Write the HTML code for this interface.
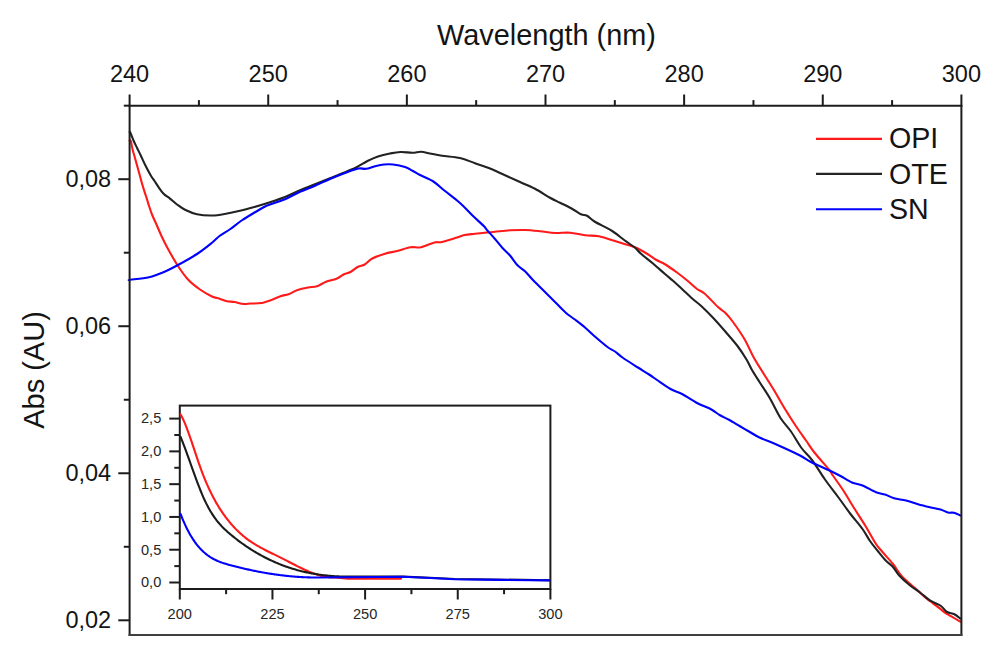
<!DOCTYPE html>
<html><head><meta charset="utf-8"><title>Absorbance spectra</title>
<style>html,body{margin:0;padding:0;background:#fff;width:1004px;height:667px;overflow:hidden}svg{display:block}</style>
</head><body>
<svg width="1004" height="667" viewBox="0 0 1004 667">
<rect width="1004" height="667" fill="#fff"/>
<g style='font-family:"Liberation Sans",sans-serif' fill="#141414">
<text x="546.5" y="45" text-anchor="middle" font-size="28.9">Wavelength (nm)</text>
<text transform="translate(43.6,370) rotate(-90)" text-anchor="middle" font-size="29">Abs (AU)</text>
<text x="129.60" y="82.2" text-anchor="middle" font-size="23.5">240</text><text x="268.23" y="82.2" text-anchor="middle" font-size="23.5">250</text><text x="406.87" y="82.2" text-anchor="middle" font-size="23.5">260</text><text x="545.50" y="82.2" text-anchor="middle" font-size="23.5">270</text><text x="684.13" y="82.2" text-anchor="middle" font-size="23.5">280</text><text x="822.77" y="82.2" text-anchor="middle" font-size="23.5">290</text><text x="961.40" y="82.2" text-anchor="middle" font-size="23.5">300</text><text x="111.2" y="627.90" text-anchor="end" font-size="23.5">0,02</text><text x="111.2" y="480.87" text-anchor="end" font-size="23.5">0,04</text><text x="111.2" y="333.83" text-anchor="end" font-size="23.5">0,06</text><text x="111.2" y="186.80" text-anchor="end" font-size="23.5">0,08</text><text x="179.80" y="618.5" text-anchor="middle" font-size="14.6" fill="#262626">200</text><text x="272.45" y="618.5" text-anchor="middle" font-size="14.6" fill="#262626">225</text><text x="365.10" y="618.5" text-anchor="middle" font-size="14.6" fill="#262626">250</text><text x="457.75" y="618.5" text-anchor="middle" font-size="14.6" fill="#262626">275</text><text x="550.40" y="618.5" text-anchor="middle" font-size="14.6" fill="#262626">300</text><text x="161.3" y="587.30" text-anchor="end" font-size="14.6" fill="#262626">0,0</text><text x="161.3" y="554.52" text-anchor="end" font-size="14.6" fill="#262626">0,5</text><text x="161.3" y="521.74" text-anchor="end" font-size="14.6" fill="#262626">1,0</text><text x="161.3" y="488.96" text-anchor="end" font-size="14.6" fill="#262626">1,5</text><text x="161.3" y="456.18" text-anchor="end" font-size="14.6" fill="#262626">2,0</text><text x="161.3" y="423.40" text-anchor="end" font-size="14.6" fill="#262626">2,5</text>
<text x="889" y="148.3" font-size="28.6">OPI</text>
<text x="889" y="183.5" font-size="28.6">OTE</text>
<text x="889" y="218.8" font-size="28.6">SN</text>
</g>
<g fill="none" stroke-width="2.1" stroke-linejoin="round" stroke-linecap="round">
<path d="M129.60,140.50 C129.82,140.63 130.38,139.72 130.90,141.30 C131.42,142.88 132.02,147.22 132.70,150.00 C133.38,152.78 134.25,155.33 135.00,158.00 C135.75,160.67 136.42,163.17 137.20,166.00 C137.98,168.83 138.90,172.08 139.70,175.00 C140.50,177.92 141.22,180.77 142.00,183.50 C142.78,186.23 143.60,188.88 144.40,191.40 C145.20,193.92 146.10,196.40 146.80,198.60 C147.50,200.80 147.73,201.95 148.60,204.60 C149.47,207.25 150.65,211.10 152.00,214.50 C153.35,217.90 155.12,221.42 156.70,225.00 C158.28,228.58 159.70,232.17 161.50,236.00 C163.30,239.83 164.83,243.12 167.50,248.00 C170.17,252.88 174.08,260.00 177.50,265.25 C180.92,270.50 184.25,275.46 188.00,279.50 C191.75,283.54 196.00,286.67 200.00,289.50 C204.00,292.33 208.75,294.97 212.00,296.50 C215.25,298.03 217.00,297.91 219.50,298.70 C222.00,299.49 224.50,300.70 227.00,301.25 C229.50,301.80 231.75,301.54 234.50,302.00 C237.25,302.46 240.75,303.75 243.50,304.00 C246.25,304.25 248.00,303.67 251.00,303.50 C254.00,303.33 258.00,303.62 261.50,303.00 C265.00,302.38 268.75,300.92 272.00,299.75 C275.25,298.58 278.25,296.93 281.00,296.00 C283.75,295.07 285.75,295.20 288.50,294.20 C291.25,293.20 294.25,291.12 297.50,290.00 C300.75,288.88 304.75,288.12 308.00,287.50 C311.25,286.88 314.00,287.21 317.00,286.25 C320.00,285.29 322.75,283.00 326.00,281.75 C329.25,280.50 333.50,280.00 336.50,278.75 C339.50,277.50 341.67,275.38 344.00,274.25 C346.33,273.12 348.17,273.25 350.50,272.00 C352.83,270.75 355.62,268.00 358.00,266.75 C360.38,265.50 362.38,265.88 364.75,264.50 C367.12,263.12 368.88,260.30 372.25,258.50 C375.62,256.70 380.88,254.95 385.00,253.70 C389.12,252.45 392.75,252.07 397.00,251.00 C401.25,249.93 406.50,247.88 410.50,247.25 C414.50,246.62 417.00,248.05 421.00,247.25 C425.00,246.45 431.00,243.32 434.50,242.45 C438.00,241.57 438.25,242.82 442.00,242.00 C445.75,241.18 453.25,238.67 457.00,237.50 C460.75,236.33 461.50,235.62 464.50,235.00 C467.50,234.38 471.25,234.17 475.00,233.75 C478.75,233.33 483.67,232.82 487.00,232.50 C490.33,232.18 491.17,232.17 495.00,231.80 C498.83,231.43 505.00,230.60 510.00,230.30 C515.00,230.00 520.00,229.85 525.00,230.00 C530.00,230.15 535.00,230.70 540.00,231.20 C545.00,231.70 550.00,232.75 555.00,233.00 C560.00,233.25 565.00,232.32 570.00,232.70 C575.00,233.07 580.17,234.67 585.00,235.25 C589.83,235.83 594.42,235.37 599.00,236.20 C603.58,237.03 608.25,238.95 612.50,240.25 C616.75,241.55 620.75,242.82 624.50,244.00 C628.25,245.18 631.25,245.68 635.00,247.30 C638.75,248.93 643.50,251.68 647.00,253.75 C650.50,255.82 653.00,258.00 656.00,259.75 C659.00,261.50 661.50,262.12 665.00,264.25 C668.50,266.38 673.25,269.75 677.00,272.50 C680.75,275.25 684.17,278.00 687.50,280.75 C690.83,283.50 694.17,286.88 697.00,289.00 C699.83,291.12 701.00,290.50 704.50,293.50 C708.00,296.50 714.50,303.75 718.00,307.00 C721.50,310.25 723.00,310.50 725.50,313.00 C728.00,315.50 729.75,317.50 733.00,322.00 C736.25,326.50 741.50,334.00 745.00,340.00 C748.50,346.00 750.25,351.38 754.00,358.00 C757.75,364.62 764.08,374.25 767.50,379.75 C770.92,385.25 771.58,386.12 774.50,391.00 C777.42,395.88 781.50,403.25 785.00,409.00 C788.50,414.75 792.00,420.25 795.50,425.50 C799.00,430.75 802.75,435.88 806.00,440.50 C809.25,445.12 811.12,448.38 815.00,453.25 C818.88,458.12 826.33,466.12 829.25,469.75 C832.17,473.38 830.21,471.62 832.50,475.00 C834.79,478.38 839.25,484.25 843.00,490.00 C846.75,495.75 851.25,503.50 855.00,509.50 C858.75,515.50 862.00,520.25 865.50,526.00 C869.00,531.75 873.17,539.67 876.00,544.00 C878.83,548.33 879.67,548.67 882.50,552.00 C885.33,555.33 889.75,559.92 893.00,564.00 C896.25,568.08 898.50,572.62 902.00,576.50 C905.50,580.38 911.00,584.62 914.00,587.30 C917.00,589.98 917.77,590.62 920.00,592.60 C922.23,594.58 925.23,597.42 927.40,599.20 C929.57,600.98 931.00,601.80 933.00,603.30 C935.00,604.80 937.23,606.52 939.40,608.20 C941.57,609.88 943.73,611.88 946.00,613.40 C948.27,614.92 950.60,615.92 953.00,617.30 C955.40,618.68 959.17,620.97 960.40,621.70" stroke="#ff1a1a"/>
<path d="M129.60,132.00 C129.72,132.08 129.65,131.08 130.30,132.50 C130.95,133.92 132.35,137.88 133.50,140.50 C134.65,143.12 135.95,145.62 137.20,148.20 C138.45,150.78 139.67,153.20 141.00,156.00 C142.33,158.80 143.62,161.83 145.20,165.00 C146.78,168.17 148.95,172.33 150.50,175.00 C152.05,177.67 153.22,179.07 154.50,181.00 C155.78,182.93 156.68,184.47 158.20,186.60 C159.72,188.73 161.63,191.80 163.60,193.80 C165.57,195.80 167.77,196.82 170.00,198.60 C172.23,200.38 174.50,202.64 177.00,204.50 C179.50,206.36 181.67,208.12 185.00,209.75 C188.33,211.38 192.50,213.29 197.00,214.25 C201.50,215.21 207.00,215.62 212.00,215.50 C217.00,215.38 222.75,214.21 227.00,213.50 C231.25,212.79 233.25,212.25 237.50,211.25 C241.75,210.25 247.08,209.00 252.50,207.50 C257.92,206.00 264.58,204.00 270.00,202.25 C275.42,200.50 280.00,199.00 285.00,197.00 C290.00,195.00 295.00,192.38 300.00,190.25 C305.00,188.12 310.00,186.25 315.00,184.25 C320.00,182.25 325.00,180.25 330.00,178.25 C335.00,176.25 340.50,174.12 345.00,172.25 C349.50,170.38 353.25,168.88 357.00,167.00 C360.75,165.12 364.00,162.75 367.50,161.00 C371.00,159.25 374.25,157.75 378.00,156.50 C381.75,155.25 386.25,154.25 390.00,153.50 C393.75,152.75 396.75,152.12 400.50,152.00 C404.25,151.88 409.08,152.80 412.50,152.75 C415.92,152.70 418.08,151.57 421.00,151.70 C423.92,151.82 426.50,152.82 430.00,153.50 C433.50,154.18 437.00,155.00 442.00,155.75 C447.00,156.50 454.50,156.75 460.00,158.00 C465.50,159.25 470.00,161.50 475.00,163.25 C480.00,165.00 485.00,166.50 490.00,168.50 C495.00,170.50 500.00,173.00 505.00,175.25 C510.00,177.50 515.00,179.75 520.00,182.00 C525.00,184.25 530.00,186.12 535.00,188.75 C540.00,191.38 545.83,195.42 550.00,197.75 C554.17,200.08 556.33,200.92 560.00,202.75 C563.67,204.58 568.50,206.82 572.00,208.75 C575.50,210.68 578.50,213.12 581.00,214.30 C583.50,215.48 584.75,214.60 587.00,215.80 C589.25,217.00 590.25,218.93 594.50,221.50 C598.75,224.07 607.50,228.12 612.50,231.25 C617.50,234.38 620.75,237.50 624.50,240.25 C628.25,243.00 632.25,245.50 635.00,247.75 C637.75,250.00 638.00,251.12 641.00,253.75 C644.00,256.38 649.00,260.12 653.00,263.50 C657.00,266.88 661.67,271.12 665.00,274.00 C668.33,276.88 670.17,278.25 673.00,280.75 C675.83,283.25 678.75,286.00 682.00,289.00 C685.25,292.00 689.25,295.88 692.50,298.75 C695.75,301.62 698.00,303.00 701.50,306.25 C705.00,309.50 709.50,314.00 713.50,318.25 C717.50,322.50 721.50,327.12 725.50,331.75 C729.50,336.38 734.00,341.38 737.50,346.00 C741.00,350.62 744.08,355.50 746.50,359.50 C748.92,363.50 749.83,366.25 752.00,370.00 C754.17,373.75 756.50,377.25 759.50,382.00 C762.50,386.75 766.50,392.50 770.00,398.50 C773.50,404.50 777.00,412.50 780.50,418.00 C784.00,423.50 787.50,426.50 791.00,431.50 C794.50,436.50 798.00,443.25 801.50,448.00 C805.00,452.75 808.08,454.75 812.00,460.00 C815.92,465.25 820.58,473.25 825.00,479.50 C829.42,485.75 834.25,491.75 838.50,497.50 C842.75,503.25 846.50,508.75 850.50,514.00 C854.50,519.25 859.25,524.50 862.50,529.00 C865.75,533.50 867.42,537.29 870.00,541.00 C872.58,544.71 875.42,548.04 878.00,551.25 C880.58,554.46 883.00,557.62 885.50,560.25 C888.00,562.88 890.75,564.51 893.00,567.00 C895.25,569.49 896.25,572.20 899.00,575.20 C901.75,578.20 906.00,582.12 909.50,585.00 C913.00,587.88 916.52,589.88 920.00,592.50 C923.48,595.12 926.90,598.45 930.40,600.70 C933.90,602.95 938.23,604.12 941.00,606.00 C943.77,607.88 944.77,610.63 947.00,612.00 C949.23,613.37 952.17,613.08 954.40,614.20 C956.63,615.32 959.40,617.95 960.40,618.70" stroke="#222"/>
<path d="M129.60,280.00 C129.71,279.97 127.02,280.26 130.25,279.80 C133.48,279.34 143.38,278.55 149.00,277.25 C154.62,275.95 159.25,274.00 164.00,272.00 C168.75,270.00 172.00,268.25 177.50,265.25 C183.00,262.25 191.25,257.75 197.00,254.00 C202.75,250.25 208.25,245.75 212.00,242.75 C215.75,239.75 216.50,238.25 219.50,236.00 C222.50,233.75 226.25,231.88 230.00,229.25 C233.75,226.62 237.75,223.12 242.00,220.25 C246.25,217.38 251.50,214.38 255.50,212.00 C259.50,209.62 263.58,207.25 266.00,206.00 C268.42,204.75 266.83,205.62 270.00,204.50 C273.17,203.38 280.00,201.38 285.00,199.25 C290.00,197.12 295.00,194.00 300.00,191.75 C305.00,189.50 310.00,187.88 315.00,185.75 C320.00,183.62 325.00,181.12 330.00,179.00 C335.00,176.88 340.25,174.75 345.00,173.00 C349.75,171.25 355.00,169.20 358.50,168.50 C362.00,167.80 363.25,169.18 366.00,168.80 C368.75,168.43 372.00,166.97 375.00,166.25 C378.00,165.53 381.00,164.75 384.00,164.45 C387.00,164.15 389.50,164.02 393.00,164.45 C396.50,164.88 401.75,165.95 405.00,167.00 C408.25,168.05 410.00,169.42 412.50,170.75 C415.00,172.08 416.58,173.25 420.00,175.00 C423.42,176.75 428.83,178.58 433.00,181.25 C437.17,183.92 440.50,187.38 445.00,191.00 C449.50,194.62 455.50,199.00 460.00,203.00 C464.50,207.00 468.00,211.12 472.00,215.00 C476.00,218.88 481.50,223.75 484.00,226.25 C486.50,228.75 485.17,227.88 487.00,230.00 C488.83,232.12 492.42,236.00 495.00,239.00 C497.58,242.00 500.00,245.25 502.50,248.00 C505.00,250.75 507.50,252.62 510.00,255.50 C512.50,258.38 515.00,262.62 517.50,265.25 C520.00,267.88 522.50,268.88 525.00,271.25 C527.50,273.62 529.50,276.38 532.50,279.50 C535.50,282.62 539.25,286.25 543.00,290.00 C546.75,293.75 551.25,298.25 555.00,302.00 C558.75,305.75 562.25,309.62 565.50,312.50 C568.75,315.38 571.25,316.75 574.50,319.25 C577.75,321.75 581.75,324.75 585.00,327.50 C588.25,330.25 590.25,332.50 594.00,335.75 C597.75,339.00 604.00,344.38 607.50,347.00 C611.00,349.62 612.50,349.75 615.00,351.50 C617.50,353.25 618.75,354.88 622.50,357.50 C626.25,360.12 633.00,364.38 637.50,367.25 C642.00,370.12 646.25,372.62 649.50,374.75 C652.75,376.88 653.50,377.62 657.00,380.00 C660.50,382.38 666.25,386.62 670.50,389.00 C674.75,391.38 678.00,391.88 682.50,394.25 C687.00,396.62 692.75,400.75 697.50,403.25 C702.25,405.75 707.25,407.25 711.00,409.25 C714.75,411.25 717.00,413.50 720.00,415.25 C723.00,417.00 725.67,417.92 729.00,419.75 C732.33,421.58 736.67,424.29 740.00,426.25 C743.33,428.21 745.75,429.62 749.00,431.50 C752.25,433.38 754.75,435.25 759.50,437.50 C764.25,439.75 770.75,442.00 777.50,445.00 C784.25,448.00 794.58,452.75 800.00,455.50 C805.42,458.25 805.08,459.00 810.00,461.50 C814.92,464.00 824.50,468.12 829.50,470.50 C834.50,472.88 836.25,473.75 840.00,475.75 C843.75,477.75 848.25,480.88 852.00,482.50 C855.75,484.12 858.50,483.88 862.50,485.50 C866.50,487.12 872.25,490.75 876.00,492.25 C879.75,493.75 882.00,493.50 885.00,494.50 C888.00,495.50 890.50,497.25 894.00,498.25 C897.50,499.25 902.00,499.50 906.00,500.50 C910.00,501.50 914.00,503.12 918.00,504.25 C922.00,505.38 926.25,506.38 930.00,507.25 C933.75,508.12 937.50,508.62 940.50,509.50 C943.50,510.38 945.75,511.95 948.00,512.50 C950.25,513.05 951.93,512.30 954.00,512.80 C956.07,513.30 959.33,515.05 960.40,515.50" stroke="#0000ff"/>
</g>
<g stroke-width="2.1">
<line x1="816" y1="138.9" x2="882" y2="138.9" stroke="#ff1a1a"/>
<line x1="816" y1="173.9" x2="882" y2="173.9" stroke="#252525"/>
<line x1="816" y1="209.3" x2="882" y2="209.3" stroke="#0000ff"/>
</g>
<rect x="179.80" y="405.60" width="370.60" height="183.40" fill="#fff" stroke="#1c1c1c" stroke-width="2"/>
<g fill="none" stroke-width="2.1" stroke-linejoin="round" stroke-linecap="round">
<path d="M180.60,414.41 L181.60,416.24 L182.60,418.23 L183.60,420.38 L184.60,422.68 L185.60,425.11 L186.60,427.66 L187.60,430.31 L188.60,433.06 L189.60,435.88 L190.60,438.76 L191.60,441.70 L192.60,444.67 L193.60,447.67 L194.60,450.68 L195.60,453.68 L196.60,456.67 L197.60,459.63 L198.60,462.54 L199.60,465.40 L200.60,468.18 L201.60,470.89 L202.60,473.53 L203.60,476.09 L204.60,478.58 L205.60,480.99 L206.60,483.34 L207.60,485.62 L208.60,487.83 L209.60,489.98 L210.60,492.07 L211.60,494.10 L212.60,496.07 L213.60,497.98 L214.60,499.84 L215.60,501.64 L216.60,503.39 L217.60,505.09 L218.60,506.74 L219.60,508.35 L220.60,509.91 L221.60,511.42 L222.60,512.90 L223.60,514.34 L224.60,515.73 L225.60,517.09 L226.60,518.42 L227.60,519.71 L228.60,520.97 L229.60,522.19 L230.60,523.38 L231.60,524.54 L232.60,525.66 L233.60,526.76 L234.60,527.83 L235.60,528.87 L236.60,529.88 L237.60,530.86 L238.60,531.81 L239.60,532.74 L240.60,533.65 L241.60,534.53 L242.60,535.39 L243.60,536.22 L244.60,537.03 L245.60,537.82 L246.60,538.59 L247.60,539.34 L248.60,540.07 L249.60,540.78 L250.60,541.47 L251.60,542.14 L252.60,542.80 L253.60,543.45 L254.60,544.08 L255.60,544.69 L256.60,545.29 L257.60,545.88 L258.60,546.46 L259.60,547.02 L260.60,547.58 L261.60,548.12 L262.60,548.66 L263.60,549.18 L264.60,549.70 L265.60,550.22 L266.60,550.73 L267.60,551.23 L268.60,551.72 L269.60,552.22 L270.60,552.71 L271.60,553.20 L272.60,553.68 L273.60,554.17 L274.60,554.65 L275.60,555.14 L276.60,555.63 L277.60,556.12 L278.60,556.61 L279.60,557.11 L280.60,557.61 L281.60,558.11 L282.60,558.62 L283.60,559.13 L284.60,559.64 L285.60,560.16 L286.60,560.67 L287.60,561.19 L288.60,561.71 L289.60,562.23 L290.60,562.75 L291.60,563.26 L292.60,563.78 L293.60,564.29 L294.60,564.80 L295.60,565.31 L296.60,565.82 L297.60,566.32 L298.60,566.82 L299.60,567.31 L300.60,567.79 L301.60,568.28 L302.60,568.75 L303.60,569.22 L304.60,569.68 L305.60,570.13 L306.60,570.57 L307.60,571.01 L308.60,571.43 L309.60,571.85 L310.60,572.25 L311.60,572.65 L312.60,573.03 L313.60,573.40 L314.60,573.76 L315.60,574.11 L316.60,574.44 L317.60,574.76 L318.60,575.06 L319.60,575.35 L320.60,575.62 L321.60,575.88 L322.60,576.12 L323.60,576.35 L324.60,576.56 L325.60,576.75 L326.60,576.92 L327.60,577.07 L328.60,577.20 L329.60,577.32 L330.60,577.41 L331.60,577.48 L332.60,577.54 L333.60,577.56 L334.60,577.57 L335.00,577.57 L348.00,578.60 L401.00,578.60" stroke="#ff1a1a"/>
<path d="M180.60,436.90 L181.60,439.39 L182.60,441.94 L183.60,444.54 L184.60,447.20 L185.60,449.90 L186.60,452.63 L187.60,455.39 L188.60,458.17 L189.60,460.97 L190.60,463.77 L191.60,466.58 L192.60,469.38 L193.60,472.16 L194.60,474.93 L195.60,477.67 L196.60,480.38 L197.60,483.05 L198.60,485.67 L199.60,488.23 L200.60,490.74 L201.60,493.18 L202.60,495.54 L203.60,497.83 L204.60,500.02 L205.60,502.13 L206.60,504.15 L207.60,506.09 L208.60,507.94 L209.60,509.72 L210.60,511.43 L211.60,513.06 L212.60,514.63 L213.60,516.13 L214.60,517.57 L215.60,518.95 L216.60,520.27 L217.60,521.54 L218.60,522.76 L219.60,523.93 L220.60,525.05 L221.60,526.14 L222.60,527.18 L223.60,528.19 L224.60,529.16 L225.60,530.11 L226.60,531.03 L227.60,531.92 L228.60,532.79 L229.60,533.64 L230.60,534.48 L231.60,535.31 L232.60,536.12 L233.60,536.93 L234.60,537.72 L235.60,538.51 L236.60,539.28 L237.60,540.05 L238.60,540.80 L239.60,541.55 L240.60,542.29 L241.60,543.01 L242.60,543.73 L243.60,544.44 L244.60,545.14 L245.60,545.83 L246.60,546.51 L247.60,547.18 L248.60,547.84 L249.60,548.50 L250.60,549.14 L251.60,549.78 L252.60,550.40 L253.60,551.02 L254.60,551.63 L255.60,552.23 L256.60,552.82 L257.60,553.40 L258.60,553.98 L259.60,554.54 L260.60,555.10 L261.60,555.65 L262.60,556.19 L263.60,556.72 L264.60,557.24 L265.60,557.76 L266.60,558.26 L267.60,558.76 L268.60,559.25 L269.60,559.73 L270.60,560.21 L271.60,560.67 L272.60,561.13 L273.60,561.58 L274.60,562.02 L275.60,562.46 L276.60,562.89 L277.60,563.31 L278.60,563.72 L279.60,564.12 L280.60,564.52 L281.60,564.91 L282.60,565.29 L283.60,565.66 L284.60,566.03 L285.60,566.39 L286.60,566.74 L287.60,567.09 L288.60,567.43 L289.60,567.76 L290.60,568.08 L291.60,568.40 L292.60,568.71 L293.60,569.01 L294.60,569.31 L295.60,569.60 L296.60,569.89 L297.60,570.16 L298.60,570.43 L299.60,570.70 L300.60,570.95 L301.60,571.20 L302.60,571.45 L303.60,571.69 L304.60,571.92 L305.60,572.14 L306.60,572.36 L307.60,572.57 L308.60,572.78 L309.60,572.98 L310.60,573.18 L311.60,573.37 L312.60,573.55 L313.60,573.73 L314.60,573.90 L315.60,574.06 L316.60,574.22 L317.60,574.38 L318.60,574.53 L319.60,574.67 L320.60,574.81 L321.60,574.94 L322.60,575.07 L323.60,575.19 L324.60,575.30 L325.60,575.41 L326.60,575.52 L327.60,575.62 L328.60,575.72 L329.60,575.81 L330.60,575.89 L331.60,575.97 L332.60,576.05 L333.60,576.12 L334.60,576.19 L335.60,576.25 L336.60,576.31 L337.60,576.36 L338.60,576.40 L339.60,576.45 L339.60,576.45 L360.00,576.50 L403.00,576.60 L430.00,577.80 L455.00,579.00 L549.40,580.20" stroke="#1c1c1c"/>
<path d="M180.60,513.98 L181.60,516.55 L182.60,519.03 L183.60,521.40 L184.60,523.67 L185.60,525.85 L186.60,527.94 L187.60,529.94 L188.60,531.85 L189.60,533.67 L190.60,535.41 L191.60,537.08 L192.60,538.67 L193.60,540.18 L194.60,541.63 L195.60,543.01 L196.60,544.32 L197.60,545.57 L198.60,546.76 L199.60,547.90 L200.60,548.98 L201.60,550.01 L202.60,550.99 L203.60,551.93 L204.60,552.82 L205.60,553.66 L206.60,554.46 L207.60,555.23 L208.60,555.95 L209.60,556.64 L210.60,557.29 L211.60,557.90 L212.60,558.49 L213.60,559.04 L214.60,559.56 L215.60,560.05 L216.60,560.52 L217.60,560.97 L218.60,561.39 L219.60,561.79 L220.60,562.16 L221.60,562.53 L222.60,562.87 L223.60,563.20 L224.60,563.51 L225.60,563.82 L226.60,564.11 L227.60,564.40 L228.60,564.67 L229.60,564.95 L230.60,565.21 L231.60,565.48 L232.60,565.74 L233.60,566.00 L234.60,566.26 L235.60,566.52 L236.60,566.77 L237.60,567.02 L238.60,567.27 L239.60,567.51 L240.60,567.76 L241.60,568.00 L242.60,568.23 L243.60,568.47 L244.60,568.70 L245.60,568.93 L246.60,569.16 L247.60,569.38 L248.60,569.60 L249.60,569.82 L250.60,570.04 L251.60,570.25 L252.60,570.46 L253.60,570.67 L254.60,570.87 L255.60,571.07 L256.60,571.27 L257.60,571.47 L258.60,571.66 L259.60,571.85 L260.60,572.04 L261.60,572.23 L262.60,572.41 L263.60,572.59 L264.60,572.76 L265.60,572.94 L266.60,573.11 L267.60,573.27 L268.60,573.44 L269.60,573.60 L270.60,573.76 L271.60,573.91 L272.60,574.06 L273.60,574.21 L274.60,574.36 L275.60,574.50 L276.60,574.64 L277.60,574.78 L278.60,574.91 L279.60,575.04 L280.60,575.17 L281.60,575.29 L282.60,575.41 L283.60,575.53 L284.60,575.65 L285.60,575.76 L286.60,575.87 L287.60,575.97 L288.60,576.07 L289.60,576.17 L290.60,576.26 L291.60,576.36 L292.60,576.44 L293.60,576.53 L294.60,576.61 L295.60,576.69 L296.60,576.76 L297.60,576.83 L298.60,576.90 L299.60,576.97 L300.60,577.03 L301.60,577.08 L302.60,577.14 L303.60,577.19 L304.60,577.24 L305.60,577.28 L306.60,577.32 L307.60,577.36 L308.60,577.39 L309.60,577.42 L310.60,577.44 L311.60,577.46 L312.60,577.48 L313.60,577.50 L314.60,577.51 L315.60,577.52 L316.60,577.52 L317.60,577.52 L318.60,577.52 L319.60,577.51 L320.00,577.50 L350.00,577.30 L403.00,576.80 L430.00,578.00 L455.00,579.20 L500.00,579.90 L533.00,580.20 L549.40,580.40" stroke="#0000ff"/>
</g>
<g stroke="#1c1c1c" stroke-width="2" fill="none">
<line x1="128.60" y1="105.80" x2="962.40" y2="105.80"/><line x1="129.60" y1="105.80" x2="129.60" y2="636.00"/><line x1="961.40" y1="105.80" x2="961.40" y2="636.00"/><line x1="128.60" y1="635.00" x2="962.40" y2="635.00" stroke="#404040"/>
<line x1="129.60" y1="94.50" x2="129.60" y2="105.80"/><line x1="198.92" y1="100.10" x2="198.92" y2="105.80"/><line x1="268.23" y1="94.50" x2="268.23" y2="105.80"/><line x1="337.55" y1="100.10" x2="337.55" y2="105.80"/><line x1="406.87" y1="94.50" x2="406.87" y2="105.80"/><line x1="476.18" y1="100.10" x2="476.18" y2="105.80"/><line x1="545.50" y1="94.50" x2="545.50" y2="105.80"/><line x1="614.82" y1="100.10" x2="614.82" y2="105.80"/><line x1="684.13" y1="94.50" x2="684.13" y2="105.80"/><line x1="753.45" y1="100.10" x2="753.45" y2="105.80"/><line x1="822.77" y1="94.50" x2="822.77" y2="105.80"/><line x1="892.08" y1="100.10" x2="892.08" y2="105.80"/><line x1="961.40" y1="94.50" x2="961.40" y2="105.80"/><line x1="118.30" y1="620.30" x2="129.60" y2="620.30"/><line x1="123.80" y1="546.78" x2="129.60" y2="546.78"/><line x1="118.30" y1="473.27" x2="129.60" y2="473.27"/><line x1="123.80" y1="399.75" x2="129.60" y2="399.75"/><line x1="118.30" y1="326.23" x2="129.60" y2="326.23"/><line x1="123.80" y1="252.72" x2="129.60" y2="252.72"/><line x1="118.30" y1="179.20" x2="129.60" y2="179.20"/><line x1="123.80" y1="105.68" x2="129.60" y2="105.68"/><line x1="179.80" y1="589.00" x2="179.80" y2="599.50"/><line x1="226.12" y1="589.00" x2="226.12" y2="594.20"/><line x1="272.45" y1="589.00" x2="272.45" y2="599.50"/><line x1="318.77" y1="589.00" x2="318.77" y2="594.20"/><line x1="365.10" y1="589.00" x2="365.10" y2="599.50"/><line x1="411.42" y1="589.00" x2="411.42" y2="594.20"/><line x1="457.75" y1="589.00" x2="457.75" y2="599.50"/><line x1="504.07" y1="589.00" x2="504.07" y2="594.20"/><line x1="550.40" y1="589.00" x2="550.40" y2="599.50"/><line x1="169.30" y1="582.50" x2="179.80" y2="582.50"/><line x1="174.30" y1="566.11" x2="179.80" y2="566.11"/><line x1="169.30" y1="549.72" x2="179.80" y2="549.72"/><line x1="174.30" y1="533.33" x2="179.80" y2="533.33"/><line x1="169.30" y1="516.94" x2="179.80" y2="516.94"/><line x1="174.30" y1="500.55" x2="179.80" y2="500.55"/><line x1="169.30" y1="484.16" x2="179.80" y2="484.16"/><line x1="174.30" y1="467.77" x2="179.80" y2="467.77"/><line x1="169.30" y1="451.38" x2="179.80" y2="451.38"/><line x1="174.30" y1="434.99" x2="179.80" y2="434.99"/><line x1="169.30" y1="418.60" x2="179.80" y2="418.60"/>
</g>
</svg>
</body></html>
